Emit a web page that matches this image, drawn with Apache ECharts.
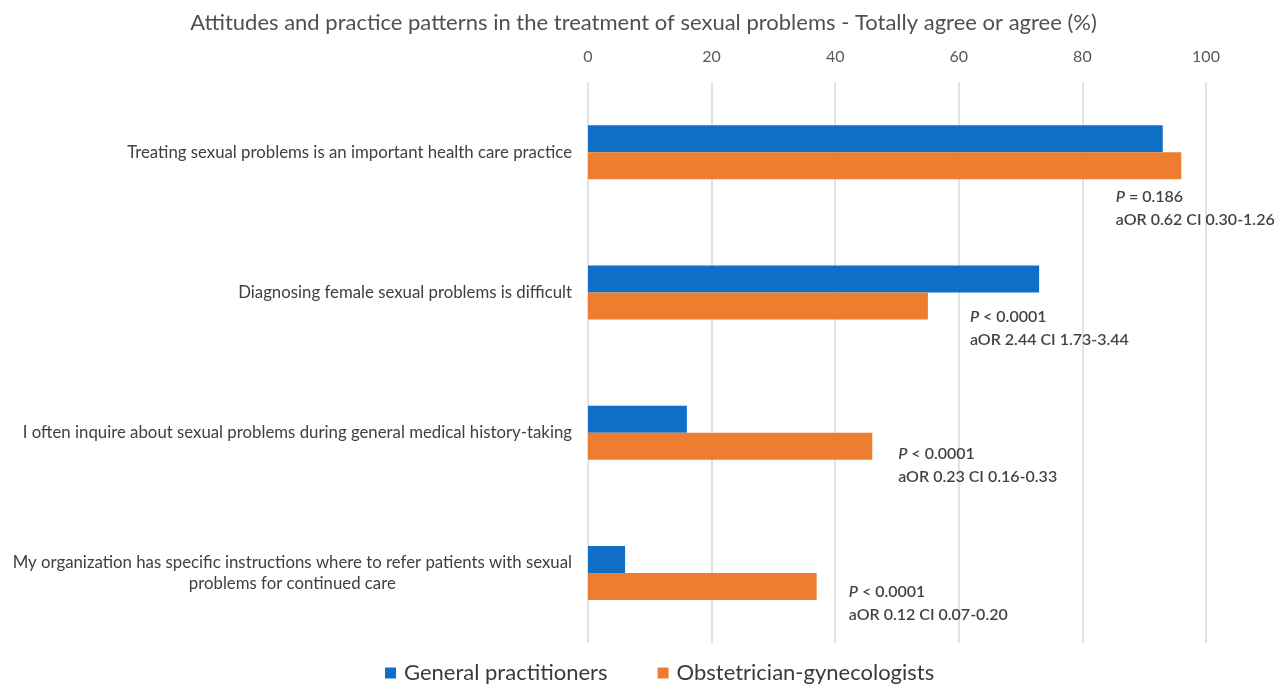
<!DOCTYPE html>
<html>
<head>
<meta charset="utf-8">
<script src="https://cdn.jsdelivr.net/npm/echarts@6/dist/echarts.min.js"></script>
<style>
  html, body { margin: 0; padding: 0; background: #fff; }
  #chart { width: 1287px; height: 690px; }
</style>
</head>
<body>
<div id="chart"></div>
<script>
// statements (top to bottom)
let categories = [
    'Treating sexual problems is an important health care practice',
    'Diagnosing female sexual problems is difficult',
    'I often inquire about sexual problems during general medical history-taking',
    'My organization has specific instructions where to refer patients with sexual\nproblems for continued care'
];
let gpValues = [93, 73, 16, 6];
let obgynValues = [96, 55, 46, 37];
let xTicks = [0, 20, 40, 60, 80, 100];

// significance notes: p sign, p value, aOR text
let pSigns = ['=', '<', '<', '<'];
let pValues = ['0.186', '0.0001', '0.0001', '0.0001'];
let aorTexts = ['aOR 0.62 CI 0.30-1.26', 'aOR 2.44 CI 1.73-3.44', 'aOR 0.23 CI 0.16-0.33', 'aOR 0.12 CI 0.07-0.20'];
// where the notes sit (x in %, y in category units)
let noteX = [85.4, 61.8, 50.2, 42.2];
let noteY = [0.4, 1.26, 2.23, 3.22];

const FONT = 'Lato';

let chart = echarts.init(document.getElementById('chart'));

let noteData = noteX.map(function (x, i) {
    return { value: [x, noteY[i]], idx: i };
});

let option = {
    animation: false,
    textStyle: { fontFamily: FONT },
    title: {
        text: 'Attitudes and practice patterns in the treatment of sexual problems - Totally agree or agree (%)',
        left: 'center',
        top: 7,
        textStyle: { fontFamily: FONT, fontSize: 22, fontWeight: 'normal', color: '#505050' }
    },
    legend: {
        bottom: 1,
        left: 380,
        itemWidth: 11,
        itemHeight: 11,
        itemGap: 50,
        icon: 'rect',
        textStyle: { fontFamily: FONT, fontSize: 22, color: '#3a3a3a', padding: [0, 0, 0, 3] },
        data: ['General practitioners', 'Obstetrician-gynecologists']
    },
    grid: { left: 588, right: 81, top: 82, bottom: 47 },
    xAxis: {
        type: 'value',
        position: 'top',
        min: xTicks[0],
        max: xTicks[xTicks.length - 1],
        interval: xTicks[1] - xTicks[0],
        axisLine: { show: false },
        axisTick: { show: false },
        axisLabel: { color: '#595959', fontSize: 16, margin: 17 },
        splitLine: { lineStyle: { color: '#d9d9d9', width: 1.5 } }
    },
    yAxis: [{
        type: 'category',
        inverse: true,
        data: categories,
        axisLine: { show: false },
        axisTick: { show: false },
        axisLabel: {
            margin: 16,
            color: '#404040',
            fontSize: 16.8,
            formatter: function (v) {
                return v.split('\n').map(function (l) { return '{c|' + l + '}'; }).join('\n');
            },
            rich: { c: { align: 'center', fontSize: 16.8, color: '#404040', lineHeight: 21 } }
        }
    }, {
        type: 'value',
        show: false,
        inverse: true,
        min: -0.5,
        max: 3.5
    }],
    series: [{
        name: 'General practitioners',
        type: 'bar',
        data: gpValues,
        barWidth: 27,
        barGap: '0%',
        itemStyle: { color: '#0F6FC6' }
    }, {
        name: 'Obstetrician-gynecologists',
        type: 'bar',
        data: obgynValues,
        barWidth: 27,
        barGap: '0%',
        itemStyle: { color: '#ED7D31' }
    }, {
        type: 'scatter',
        yAxisIndex: 1,
        symbolSize: 0,
        silent: true,
        data: noteData,
        label: {
            show: true,
            position: 'right',
            distance: 0,
            align: 'left',
            formatter: function (p) {
                let i = p.data.idx;
                return '{i|P}{n| ' + pSigns[i] + ' ' + pValues[i] + '}\n{n|' + aorTexts[i] + '}';
            },
            rich: {
                i: { fontStyle: 'italic', fontSize: 16, color: '#111', fontFamily: FONT, fontWeight: 600, lineHeight: 23 },
                n: { fontSize: 16, color: '#111', fontFamily: FONT, fontWeight: 600, lineHeight: 23 }
            }
        }
    }]
};

chart.setOption(option);
</script>
</body>
</html>
